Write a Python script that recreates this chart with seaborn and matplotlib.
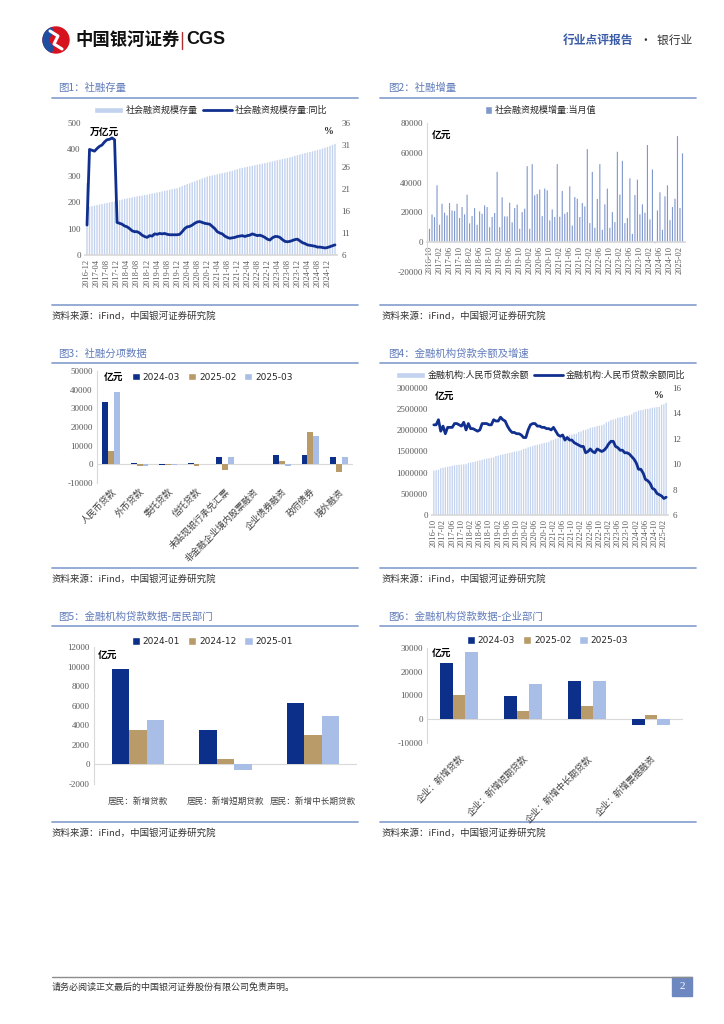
import matplotlib
matplotlib.use("Agg")
import matplotlib.pyplot as plt
from matplotlib.lines import Line2D
from matplotlib.patches import Circle, Patch, Rectangle, Wedge
from matplotlib.ticker import FuncFormatter
import numpy as np
import pandas as pd
import seaborn as sns

W, H = 724, 1024

NAVY = "#0c2f8a"
TAN = "#b99a69"
LIGHT = "#a9bee6"
PALE_BAR = "#c3d2ee"
MID_BAR = "#8198cd"
LINE_BLUE = "#102f8e"
RULE = "#8ea5d1"
TICK_GREY = "#595959"
AXIS_GREY = "#d9d9d9"
CJK = ["Noto Sans CJK SC", "DejaVu Sans"]

# ---- Fig1: social financing stock (万亿元) and yoy (%), 2016-12 .. 2025-03
SF_STOCK = [
    272,
    183, 185, 187, 189, 191, 193, 195, 197, 199, 201, 203, 206,
    208, 210, 212, 214, 216, 218, 220, 222, 224, 225, 227, 228,
    231, 233, 235, 237, 239, 241, 243, 245, 247, 249, 251, 253,
    257, 261, 265, 269, 272, 276, 279, 283, 286, 290, 293, 297,
    299, 301, 303, 306, 308, 310, 312, 314, 317, 319, 322, 325,
    328, 330, 332, 334, 336, 338, 340, 342, 344, 346, 348, 350,
    353, 355, 357, 359, 361, 363, 365, 367, 370, 372, 375, 378,
    381, 383, 386, 388, 390, 393, 395, 398, 400, 403, 406, 409,
    413, 417, 421,
]
SF_STOCK_YOY = [
    12.8,
    30.0, 29.8, 29.6, 30.2, 30.7, 31.0, 31.7, 32.2, 32.3, 32.6, 32.2, 13.4,
    13.2, 13.0, 12.6, 12.4, 12.0, 11.5, 11.3, 11.3, 11.0, 10.5, 10.2, 10.0,
    10.4, 10.3, 10.8, 10.7, 10.9, 10.8, 10.9, 10.7, 10.6, 10.6, 10.6, 10.6,
    10.7, 11.3, 12.0, 12.4, 12.5, 12.8, 13.2, 13.5, 13.6, 13.4, 13.2, 13.1,
    13.0, 12.5, 12.0, 11.3, 11.0, 10.8, 10.3, 10.0, 9.8, 9.9, 10.0, 10.2,
    10.3, 10.4, 10.2, 10.4, 10.5, 10.8, 10.6, 10.4, 10.5, 10.3, 10.0, 9.6,
    9.4, 9.9, 10.2, 10.2, 10.0, 9.5, 9.1, 9.0, 9.1, 9.3, 9.5, 9.6,
    9.2, 8.8, 8.6, 8.3, 8.2, 8.1, 8.0, 7.8, 7.8, 7.7, 7.6, 7.7,
    7.9, 8.1, 8.3,
]
MONTHS_1 = list(pd.period_range("2016-12", periods=len(SF_STOCK), freq="M").strftime("%Y-%m"))

# ---- Fig2: social financing monthly flow (亿元), 2016-10 .. 2025-03
SF_FLOW = [
    9000, 18600, 16800,
    38200, 11700, 25800, 19800, 18000, 26300, 21300, 20900, 25800, 16200, 23600, 18700,
    31900, 12600, 17500, 22900, 11700, 20700, 19100, 24700, 23600, 10100, 16900, 19600,
    47200, 10100, 30100, 17300, 17300, 26500, 13300, 22900, 25200, 9000, 20200, 22500,
    51000, 9000, 52400, 31500, 32400, 35300, 17500, 36000, 34800, 14600, 22000, 16900,
    52400, 17100, 34400, 19100, 20200, 37500, 11200, 30300, 29200, 16900, 26300, 24000,
    62500, 12800, 47200, 9700, 29000, 52400, 8300, 25400, 36000, 9700, 20200, 13500,
    60700, 31900, 54600, 12800, 16200, 42900, 5600, 31700, 42000, 18700, 25400, 19800,
    65200, 15300, 48800, -700, 21300, 33500, 8300, 30800, 38200, 14800, 23600, 29200,
    71200, 22900, 59600,
]
MONTHS_2 = list(pd.period_range("2016-10", periods=len(SF_FLOW), freq="M").strftime("%Y-%m"))

# ---- Fig3: social financing components (亿元)
SF_ITEMS = ["人民币贷款", "外币贷款", "委托贷款", "信托贷款", "未贴现银行承兑汇票",
            "非金融企业境内股票融资", "企业债券融资", "政府债券", "境外融资"]
ITEMS_2024_03 = [33300, 700, -600, 900, 3900, 300, 4800, 5000, 4100]
ITEMS_2025_02 = [6900, -800, -500, -700, -3200, 300, 1900, 17200, -3900]
ITEMS_2025_03 = [38800, -800, -200, 300, 3800, 300, -1000, 15100, 4100]
PERIODS_A = ["2024-03", "2025-02", "2025-03"]

# ---- Fig4: RMB loan balance (亿元) and yoy (%), 2016-10 .. 2025-03
LOAN_BAL = [
    1046000, 1058000, 1066000,
    1106000, 1116000, 1127000, 1138000, 1149000, 1163000, 1171000, 1181000, 1188000, 1191000, 1196000, 1201000,
    1230000, 1239000, 1251000, 1262000, 1274000, 1292000, 1305000, 1318000, 1332000, 1339000, 1351000, 1362000,
    1394000, 1403000, 1420000, 1430000, 1442000, 1458000, 1468000, 1480000, 1497000, 1503000, 1517000, 1530000,
    1563000, 1571000, 1599000, 1616000, 1630000, 1649000, 1659000, 1672000, 1691000, 1698000, 1713000, 1727000,
    1763000, 1776000, 1803000, 1817000, 1832000, 1854000, 1863000, 1875000, 1892000, 1900000, 1912000, 1922000,
    1962000, 1975000, 2006000, 2012000, 2031000, 2060000, 2067000, 2080000, 2104000, 2110000, 2122000, 2140000,
    2189000, 2207000, 2247000, 2254000, 2268000, 2299000, 2302000, 2315000, 2338000, 2345000, 2356000, 2373000,
    2422000, 2437000, 2468000, 2475000, 2485000, 2506000, 2508000, 2517000, 2536000, 2542000, 2548000, 2554000,
    2605000, 2615000, 2654000,
]
LOAN_YOY = [
    13.1, 13.1, 13.5,
    12.6, 13.0, 12.4, 12.9, 12.9, 12.9, 13.2, 13.2, 13.1, 13.0, 13.3, 12.7,
    13.2, 12.8, 12.8, 12.7, 12.6, 12.7, 13.2, 13.2, 13.2, 13.1, 13.1, 13.5,
    13.4, 13.4, 13.7, 13.5, 13.4, 13.0, 12.7, 12.5, 12.5, 12.4, 12.4, 12.3,
    12.1, 12.1, 12.7, 13.1, 13.2, 13.2, 13.0, 13.0, 12.9, 12.9, 12.8, 12.8,
    12.7, 12.9, 12.6, 12.3, 12.2, 12.3, 11.9, 12.1, 11.9, 11.9, 11.7, 11.6,
    11.5, 11.4, 11.4, 10.9, 11.0, 11.2, 11.0, 10.9, 11.2, 11.1, 11.0, 11.1,
    11.3, 11.6, 11.8, 11.8, 11.4, 11.3, 11.1, 11.1, 10.9, 10.9, 10.8, 10.6,
    10.4, 10.1, 9.6, 9.6, 9.3, 8.8, 8.7, 8.5, 8.1, 8.0, 7.7, 7.6,
    7.5, 7.3, 7.4,
]

# ---- Fig5: household loans (亿元)
HH_ITEMS = ["居民：新增贷款", "居民：新增短期贷款", "居民：新增中长期贷款"]
HH_2024_01 = [9800, 3500, 6300]
HH_2024_12 = [3500, 600, 3000]
HH_2025_01 = [4500, -600, 5000]
PERIODS_HH = ["2024-01", "2024-12", "2025-01"]

# ---- Fig6: corporate loans (亿元)
CORP_ITEMS = ["企业：新增贷款", "企业：新增短期贷款", "企业：新增中长期贷款", "企业：新增票据融资"]
CORP_2024_03 = [23800, 9800, 16200, -2600]
CORP_2025_02 = [10400, 3300, 5400, 1900]
CORP_2025_03 = [28500, 14700, 16200, -2300]

PLAIN = FuncFormatter(lambda v, _: f"{int(round(v))}")


def px_axes(fig, left, top, right, bottom):
    return fig.add_axes([left / W, 1 - bottom / H, (right - left) / W, (bottom - top) / H])


def style_axis(ax, left_spine=True):
    for side in ["top", "right", "left", "bottom"]:
        ax.spines[side].set_visible(False)
    if left_spine:
        ax.spines["left"].set_visible(True)
        ax.spines["left"].set_color(AXIS_GREY)
        ax.spines["left"].set_linewidth(0.8)
    ax.set_facecolor("none")
    ax.tick_params(length=0, labelsize=6.5, colors=TICK_GREY, pad=3)
    ax.yaxis.set_major_formatter(PLAIN)
    ax.set_xlabel("")
    ax.set_ylabel("")


def unsnap(ax):
    # thin monthly bars vanish when snapped to the pixel grid
    for p in ax.patches:
        p.set_snap(False)


def unit_text(ax, x, y, s):
    ax.text(x, y, s, transform=ax.transAxes, fontsize=7, fontweight="bold",
            color="black", family=CJK, va="center", ha="left")


def long_frame(items, series):
    frames = [pd.DataFrame({"cat": items, "period": p, "val": v}) for p, v in series.items()]
    return pd.concat(frames, ignore_index=True)


def grouped_bars(ax, items, series, width):
    df = long_frame(items, series)
    sns.barplot(data=df, x="cat", y="val", hue="period", hue_order=list(series.keys()),
                palette=[NAVY, TAN, LIGHT], width=width, saturation=1, errorbar=None,
                linewidth=0, ax=ax, zorder=3)
    if ax.get_legend() is not None:
        ax.get_legend().remove()
    ax.axhline(0, color=AXIS_GREY, linewidth=0.8, zorder=2)


def square_legend(ax, labels, anchor):
    handles = [Patch(facecolor=c, label=l) for c, l in zip([NAVY, TAN, LIGHT], labels)]
    ax.legend(handles=handles, loc="center", bbox_to_anchor=anchor, ncol=3, frameon=False,
              handlelength=0.9, handleheight=0.9, handletextpad=0.3,
              columnspacing=0.9, prop={"family": ["DejaVu Sans"], "size": 6.5})


sns.set_theme(style="white")
plt.rcParams["font.family"] = ["Liberation Serif", "Noto Sans CJK SC"]
plt.rcParams["axes.unicode_minus"] = False

fig = plt.figure(figsize=(W / 100, H / 100), dpi=100)
fig.patch.set_facecolor("white")

# page furniture
page = fig.add_axes([0, 0, 1, 1])
page.set_xlim(0, W)
page.set_ylim(H, 0)
page.axis("off")

page.add_patch(Circle((56, 40), 13, color="#d7121f"))
page.add_patch(Wedge((56, 40), 13, 110, 250, width=6, color="#1d4fa0"))
page.plot([50, 58, 54, 62], [31, 36, 44, 49], color="white", linewidth=2.2, solid_capstyle="round")
page.text(75, 40, "中国银河证券", fontsize=12.5, fontweight="bold", family=CJK, va="center", ha="left", color="#111111")
page.plot([182, 182], [32, 49], color="#b03030", linewidth=1.0)
page.text(186, 40, "CGS", fontsize=13, fontweight="bold", family=["Liberation Sans"], va="center", ha="left", color="#111111")
page.text(633, 40, "行业点评报告", fontsize=8.5, fontweight="bold", family=CJK, va="center", ha="right", color="#3a5ca8")
page.text(692, 40, "·  银行业", fontsize=8.5, family=CJK, va="center", ha="right", color="#333333")

titles = [
    (58, 88, "图1：社融存量"), (388, 88, "图2：社融增量"),
    (58, 354, "图3：社融分项数据"), (388, 354, "图4：金融机构贷款余额及增速"),
    (58, 617, "图5：金融机构贷款数据-居民部门"), (388, 617, "图6：金融机构贷款数据-企业部门"),
]
for x, y, s in titles:
    page.text(x, y, s, fontsize=7.5, family=CJK, color="#5f7bbb", va="center", ha="left")
for y in [98, 363, 626]:
    page.plot([52, 358], [y, y], color=RULE, linewidth=1.3)
    page.plot([380, 696], [y, y], color=RULE, linewidth=1.3)
for y in [305, 568, 822]:
    page.plot([52, 358], [y, y], color=RULE, linewidth=1.3)
    page.plot([380, 696], [y, y], color=RULE, linewidth=1.3)
    for x in [52, 382]:
        page.text(x, y + 11, "资料来源：iFind，中国银河证券研究院", fontsize=6.8, family=CJK,
                  color="#333333", va="center", ha="left", style="italic")

page.plot([52, 692], [977, 977], color="#8c8c8c", linewidth=1.0)
page.text(52, 987, "请务必阅读正文最后的中国银河证券股份有限公司免责声明。", fontsize=6.5,
          family=CJK, color="#333333", va="center", ha="left")
page.add_patch(Rectangle((672, 977), 20, 19, color="#6d87c0"))
page.text(682, 986.5, "2", fontsize=8, color="white", va="center", ha="center")

# ---- Fig1
ax1 = px_axes(fig, 85, 123, 337, 255)
x1 = np.arange(len(SF_STOCK))
sns.barplot(x=x1, y=SF_STOCK, color=PALE_BAR, width=0.55, saturation=1, linewidth=0,
            native_scale=True, ax=ax1)
unsnap(ax1)
style_axis(ax1, left_spine=False)
ax1.spines["bottom"].set_visible(True)
ax1.spines["bottom"].set_color(AXIS_GREY)
ax1.set_ylim(0, 500)
ax1.set_yticks(range(0, 501, 100))
ax1.set_xlim(-0.8, len(SF_STOCK) - 0.2)
ax1.set_xticks(x1[::4])
ax1.set_xticklabels(MONTHS_1[::4], rotation=90, fontsize=6)
t1 = ax1.twinx()
sns.lineplot(x=x1, y=SF_STOCK_YOY, color=LINE_BLUE, linewidth=2.0, ax=t1)
style_axis(t1, left_spine=False)
t1.set_ylim(6, 36)
t1.set_yticks(range(6, 37, 5))
unit_text(ax1, 0.02, 0.935, "万亿元")
ax1.text(0.95, 0.935, "%", transform=ax1.transAxes, fontsize=7, fontweight="bold", va="center")
ax1.legend(handles=[Patch(facecolor=PALE_BAR, label="社会融资规模存量"),
                    Line2D([], [], color=LINE_BLUE, linewidth=2, label="社会融资规模存量:同比")],
           loc="lower center", bbox_to_anchor=(0.5, 1.0), ncol=2, frameon=False,
           handlelength=3.2, handleheight=0.6, columnspacing=0.6, handletextpad=0.3,
           prop={"family": CJK, "size": 6.5})

# ---- Fig2
ax2 = px_axes(fig, 427, 123, 685, 272)
x2 = np.arange(len(SF_FLOW))
sns.barplot(x=x2, y=SF_FLOW, color=MID_BAR, width=0.45, saturation=1, linewidth=0,
            native_scale=True, ax=ax2)
unsnap(ax2)
style_axis(ax2)
ax2.set_ylim(-20000, 80000)
ax2.set_yticks(range(-20000, 80001, 20000))
ax2.set_xlim(-1, len(SF_FLOW))
ax2.spines["bottom"].set_visible(True)
ax2.spines["bottom"].set_color(AXIS_GREY)
ax2.spines["bottom"].set_position(("data", 0))
ax2.set_xticks(x2[::4])
ax2.set_xticklabels(MONTHS_2[::4], rotation=90, fontsize=6)
unit_text(ax2, 0.02, 0.92, "亿元")
ax2.legend(handles=[Patch(facecolor=MID_BAR, label="社会融资规模增量:当月值")],
           loc="lower center", bbox_to_anchor=(0.44, 1.0), frameon=False,
           handlelength=0.7, handleheight=0.9, handletextpad=0.3,
           prop={"family": CJK, "size": 6.5})

# ---- Fig3
ax3 = px_axes(fig, 97, 371, 353, 483)
grouped_bars(ax3, SF_ITEMS, {"2024-03": ITEMS_2024_03, "2025-02": ITEMS_2025_02,
                             "2025-03": ITEMS_2025_03}, 0.62)
style_axis(ax3)
ax3.set_ylim(-10000, 50000)
ax3.set_yticks(range(-10000, 50001, 10000))
ax3.set_xticks(range(len(SF_ITEMS)))
ax3.set_xticklabels(SF_ITEMS, rotation=45, ha="right", rotation_mode="anchor",
                    fontsize=6.5, family=CJK, color="#404040")
unit_text(ax3, 0.025, 0.945, "亿元")
square_legend(ax3, PERIODS_A, (0.45, 0.945))

# ---- Fig4
ax4 = px_axes(fig, 432, 388, 668, 515)
x4 = np.arange(len(LOAN_BAL))
sns.barplot(x=x4, y=LOAN_BAL, color=PALE_BAR, width=0.55, saturation=1, linewidth=0,
            native_scale=True, ax=ax4)
unsnap(ax4)
style_axis(ax4, left_spine=False)
ax4.spines["bottom"].set_visible(True)
ax4.spines["bottom"].set_color(AXIS_GREY)
ax4.set_ylim(0, 3000000)
ax4.set_yticks(range(0, 3000001, 500000))
ax4.set_xlim(-0.8, len(LOAN_BAL) - 0.2)
ax4.set_xticks(x4[::4])
ax4.set_xticklabels(MONTHS_2[::4], rotation=90, fontsize=6)
t4 = ax4.twinx()
sns.lineplot(x=x4, y=LOAN_YOY, color=LINE_BLUE, linewidth=2.0, ax=t4)
style_axis(t4, left_spine=False)
t4.set_ylim(6, 16)
t4.set_yticks(range(6, 17, 2))
unit_text(ax4, 0.01, 0.94, "亿元")
ax4.text(0.94, 0.94, "%", transform=ax4.transAxes, fontsize=7, fontweight="bold", va="center")
ax4.legend(handles=[Patch(facecolor=PALE_BAR, label="金融机构:人民币贷款余额"),
                    Line2D([], [], color=LINE_BLUE, linewidth=2, label="金融机构:人民币贷款余额同比")],
           loc="lower center", bbox_to_anchor=(0.46, 1.0), ncol=2, frameon=False,
           handlelength=3.2, handleheight=0.6, columnspacing=0.6, handletextpad=0.3,
           prop={"family": CJK, "size": 6.5})

# ---- Fig5
ax5 = px_axes(fig, 94, 647, 357, 784)
grouped_bars(ax5, HH_ITEMS, {"2024-01": HH_2024_01, "2024-12": HH_2024_12,
                             "2025-01": HH_2025_01}, 0.6)
style_axis(ax5)
ax5.set_ylim(-2000, 12000)
ax5.set_yticks(range(-2000, 12001, 2000))
ax5.set_xticks(range(len(HH_ITEMS)))
ax5.set_xticklabels(HH_ITEMS, fontsize=6.2, family=CJK, color="#404040")
ax5.tick_params(axis="x", pad=9)
unit_text(ax5, 0.015, 0.94, "亿元")
square_legend(ax5, PERIODS_HH, (0.45, 1.04))

# ---- Fig6
ax6 = px_axes(fig, 427, 648, 683, 743)
grouped_bars(ax6, CORP_ITEMS, {"2024-03": CORP_2024_03, "2025-02": CORP_2025_02,
                               "2025-03": CORP_2025_03}, 0.6)
style_axis(ax6)
ax6.set_ylim(-10000, 30000)
ax6.set_yticks(range(-10000, 30001, 10000))
ax6.set_xticks(range(len(CORP_ITEMS)))
ax6.set_xticklabels(CORP_ITEMS, rotation=45, ha="right", rotation_mode="anchor",
                    fontsize=6.5, family=CJK, color="#404040")
ax6.tick_params(axis="x", pad=8)
unit_text(ax6, 0.02, 0.95, "亿元")
square_legend(ax6, PERIODS_A, (0.47, 1.08))

fig.savefig("out.png", dpi=100, facecolor="white")
